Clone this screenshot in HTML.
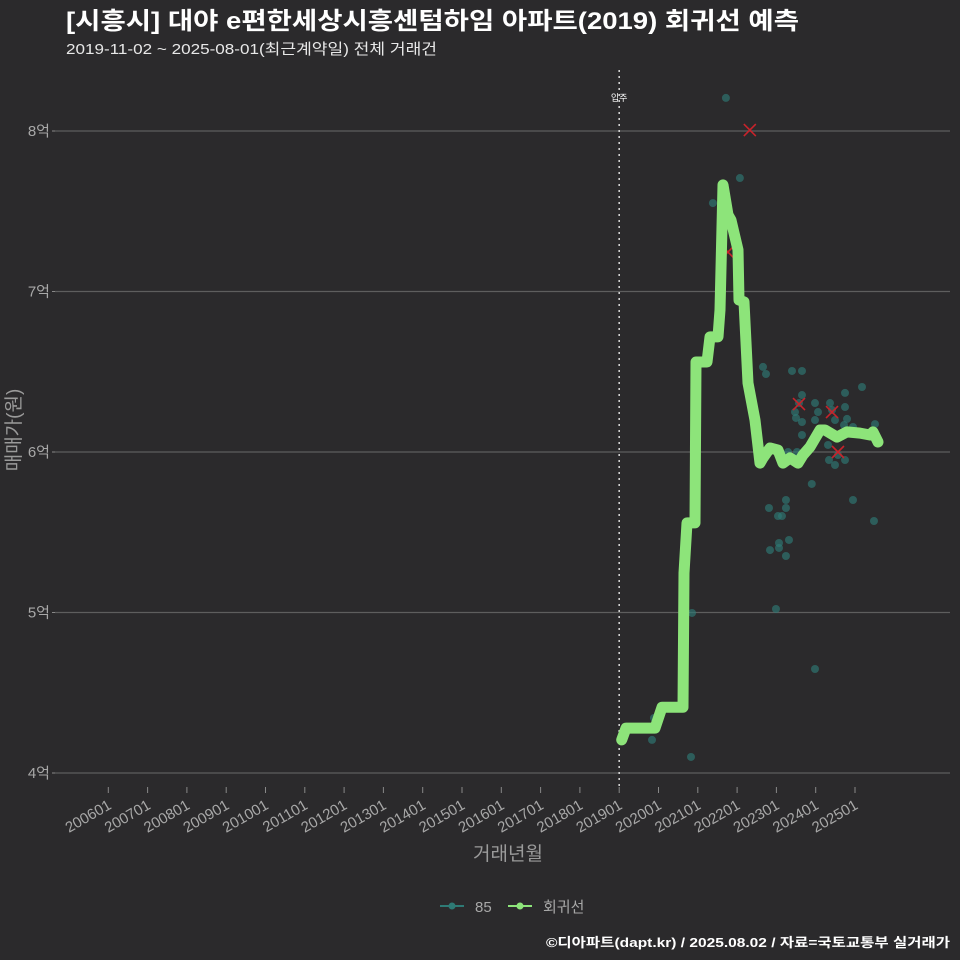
<!DOCTYPE html>
<html><head><meta charset="utf-8"><style>
html,body{margin:0;padding:0;background:#2b2a2c;}
svg{display:block;font-family:"Liberation Sans","Noto Sans CJK KR",sans-serif;}
</style></head><body>
<svg id="chart" width="960" height="960" viewBox="0 0 960 960">
<rect width="960" height="960" fill="#2b2a2c"/>
<text x="66" y="29" fill="#ffffff" font-size="24" font-weight="bold" textLength="733" lengthAdjust="spacingAndGlyphs">[시흥시] 대야 e편한세상시흥센텀하임 아파트(2019) 회귀선 예측</text>
<text x="66" y="54" fill="#e8e8e8" font-size="15" textLength="371" lengthAdjust="spacingAndGlyphs">2019-11-02 ~ 2025-08-01(최근계약일) 전체 거래건</text>
<g id="grid"></g>
<g id="xaxis"></g>
<g id="yaxis"></g>
<g id="marks"></g>
<text x="20" y="430" fill="#9a9a9a" font-size="19" transform="rotate(-90 20 430)" text-anchor="middle">매매가(원)</text>
<text x="508" y="860" fill="#9a9a9a" font-size="19" text-anchor="middle">거래년월</text>
<g>
<g>
<line x1="440" y1="906" x2="464" y2="906" stroke="#2e7a75" stroke-width="2"/>
<circle cx="452" cy="906" r="3.5" fill="#2e7a75"/>
<text x="475" y="912" fill="#a8a8a8" font-size="15">85</text></g>
<g>
<line x1="508" y1="906" x2="532" y2="906" stroke="#8de47a" stroke-width="2"/>
<circle cx="520" cy="906" r="3.5" fill="#8de47a"/>
<text x="543" y="912" fill="#a8a8a8" font-size="15">회귀선</text></g>
</g>
<text x="950" y="947" fill="#ffffff" font-size="13" font-weight="bold" text-anchor="end" textLength="404" lengthAdjust="spacingAndGlyphs">©디아파트(dapt.kr) / 2025.08.02 / 자료=국토교통부 실거래가</text>
</svg>
<script>
const yTicks = [4, 5, 6, 7, 8];
const yTickLabels = ['4억', '5억', '6억', '7억', '8억'];
const xTickYears = [2006,2007,2008,2009,2010,2011,2012,2013,2014,2015,2016,2017,2018,2019,2020,2021,2022,2023,2024,2025];
const xTickLabels = ['200601','200701','200801','200901','201001','201101','201201','201301','201401','201501','201601','201701','201801','201901','202001','202101','202201','202301','202401','202501'];
const moveInYear = 2019.0;
const lineYears = [2019.064,2019.173,2019.911,2020.089,2020.623,2020.65,2020.725,2020.929,2020.955,2021.234,2021.31,2021.514,2021.565,2021.641,2021.768,2021.845,2022.023,2022.048,2022.176,2022.277,2022.455,2022.583,2022.659,2022.837,2023.041,2023.168,2023.346,2023.55,2023.677,2023.855,2024.109,2024.237,2024.542,2024.796,2025.127,2025.382,2025.458,2025.585];
const lineValues = [4.206,4.28,4.28,4.41,4.41,5.246,5.558,5.558,6.561,6.561,6.717,6.717,6.885,7.664,7.477,7.445,7.259,6.947,6.935,6.43,6.199,5.931,5.963,6.025,6.012,5.931,5.963,5.931,5.981,6.031,6.137,6.137,6.093,6.125,6.118,6.106,6.125,6.062];
const dealYears = [2021.715,2022.071,2021.384,2022.659,2022.735,2023.397,2023.651,2023.651,2023.575,2023.473,2023.499,2023.651,2023.982,2024.059,2023.982,2024.364,2024.415,2024.491,2024.746,2024.746,2024.797,2025.178,2024.72,2024.949,2023.651,2025.509,2023.295,2023.524,2024.338,2024.491,2024.746,2024.313,2024.567,2023.9,2022.811,2023.243,2023.243,2023.04,2023.142,2024.949,2025.483,2022.837,2023.066,2023.066,2023.32,2023.243,2022.989,2023.982,2020.853,2020.827,2019.835,2019.885];
const dealValues = [8.206,7.707,7.551,6.53,6.486,6.505,6.505,6.355,6.305,6.249,6.212,6.187,6.305,6.249,6.199,6.305,6.262,6.199,6.368,6.28,6.206,6.405,6.168,6.156,6.106,6.174,6.0,6.0,5.95,5.919,5.95,6.044,5.981,5.801,5.651,5.701,5.651,5.601,5.601,5.701,5.57,5.389,5.433,5.402,5.452,5.352,5.022,4.648,4.997,4.1,4.206,4.343];
const outlierYears = [2022.324,2023.575,2024.415,2024.567,2021.766];
const outlierValues = [8.006,6.299,6.249,6.0,7.246];

const NS='http://www.w3.org/2000/svg';
const X = yr => 108.3 + (yr - 2006) * 39.3;
const Y = v => 131 + (8 - v) * 160.5;
function mk(tag, attrs, parent){const e=document.createElementNS(NS,tag);for(const k in attrs)e.setAttribute(k,attrs[k]);parent.appendChild(e);return e;}
const grid=document.getElementById('grid'), xa=document.getElementById('xaxis'), ya=document.getElementById('yaxis'), marks=document.getElementById('marks');
yTicks.forEach((v,i)=>{
  const g=mk('line',{x1:55,x2:950,y1:Y(v),y2:Y(v),stroke:'#5e5e5e','stroke-width':1.2},grid);
  
  
  mk('line',{x1:52,x2:55,y1:Y(v),y2:Y(v),stroke:'#888'},ya);
  const t=mk('text',{x:50,y:Y(v)+5,fill:'#a8a8a8','font-size':15,'text-anchor':'end'},ya);
  t.textContent=yTickLabels[i];
  
  
});
xTickYears.forEach((yr,i)=>{
  const x=X(yr);
  mk('line',{x1:x,x2:x,y1:787,y2:793,stroke:'#888'},xa);
  const t=mk('text',{x:x+4,y:808,fill:'#a8a8a8','font-size':15,'text-anchor':'end',transform:`rotate(-30 ${x+4} 808)`},xa);
  t.textContent=xTickLabels[i];
  
  
});
const mv=mk('line',{x1:X(moveInYear),x2:X(moveInYear),y1:70,y2:790,stroke:'#cfcfcf','stroke-width':1.6,'stroke-dasharray':'2 4'},marks);


const mvt=mk('text',{x:X(moveInYear),y:101,fill:'#ffffff','font-size':9,'text-anchor':'middle'},marks);
mvt.textContent='입주';


dealYears.forEach((yr,i)=>{
  const c=mk('circle',{cx:X(yr),cy:Y(dealValues[i]),r:4,fill:'#2e7a75','fill-opacity':0.65},marks);
  
  
});
outlierYears.forEach((yr,i)=>{
  const x=X(yr),y=Y(outlierValues[i]);
  const p=mk('path',{d:`M${x-6} ${y-6}L${x+6} ${y+6}M${x-6} ${y+6}L${x+6} ${y-6}`,stroke:'#c8232b','stroke-width':1.6},marks);
  
  
});
const d=lineYears.map((yr,i)=>(i?'L':'M')+X(yr).toFixed(1)+' '+Y(lineValues[i]).toFixed(1)).join('');
const pl=mk('path',{d:d,fill:'none',stroke:'#8de47a','stroke-width':11,'stroke-linejoin':'round','stroke-linecap':'round'},marks);


</script>
</body></html>
